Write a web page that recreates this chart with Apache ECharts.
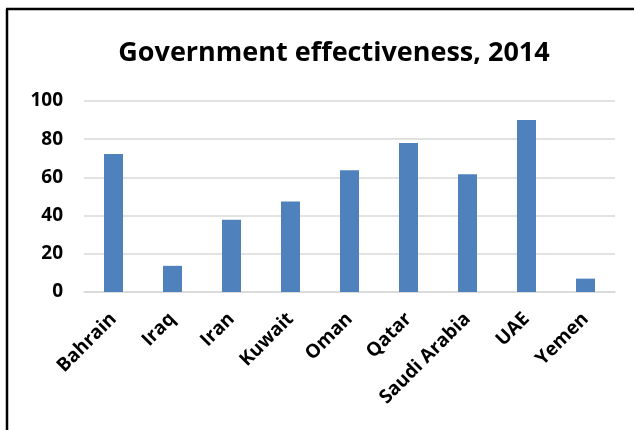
<!DOCTYPE html>
<html>
<head>
<meta charset="utf-8">
<script src="https://cdn.jsdelivr.net/npm/echarts@6/dist/echarts.min.js"></script>
<style>
  html, body { margin: 0; padding: 0; background: #fff; }
  #chart { width: 634px; height: 430px; }
</style>
</head>
<body>
<div id="chart"></div>
<script>
// Government effectiveness scores (percentile rank), 2014
const countries = ['Bahrain', 'Iraq', 'Iran', 'Kuwait', 'Oman', 'Qatar', 'Saudi Arabia', 'UAE', 'Yemen'];
const effectiveness = [72.3, 13.7, 37.8, 47.4, 63.8, 78.0, 61.7, 90.1, 7.0];
const yTicks = [0, 20, 40, 60, 80, 100];

const FONT = '"Open Sans", sans-serif';

const chart = echarts.init(document.getElementById('chart'), null, { renderer: 'canvas' });
chart.setOption({
  animation: false,
  backgroundColor: '#ffffff',
  title: {
    text: 'Government effectiveness, 2014',
    left: 329,
    textAlign: 'center',
    top: 35,
    textStyle: { fontFamily: FONT, fontWeight: 'bold', fontSize: 27, color: '#000' }
  },
  grid: { left: 84, right: 19, top: 101, bottom: 138 },
  xAxis: {
    type: 'category',
    data: countries,
    axisLine: { show: true, lineStyle: { color: '#d9d9d9', width: 1.5 } },
    axisTick: { show: false },
    axisLabel: {
      rotate: 45,
      interval: 0,
      margin: 24,
      fontFamily: FONT,
      fontWeight: 'bold',
      fontSize: 19,
      color: '#000'
    }
  },
  yAxis: {
    type: 'value',
    min: yTicks[0],
    max: yTicks[yTicks.length - 1],
    interval: yTicks[1] - yTicks[0],
    axisLine: { show: false },
    axisTick: { show: false },
    splitLine: { show: true, lineStyle: { color: '#d9d9d9', width: 1.5 } },
    axisLabel: {
      margin: 21,
      fontFamily: FONT,
      fontWeight: 'bold',
      fontSize: 19,
      color: '#000'
    }
  },
  series: [{
    type: 'bar',
    data: effectiveness,
    barWidth: 19,
    itemStyle: { color: '#4f81bd' }
  }],
  graphic: [
    { type: 'line', shape: { x1: 7, y1: 9, x2: 7, y2: 430 }, style: { stroke: '#000', lineWidth: 2.5 } },
    { type: 'line', shape: { x1: 6, y1: 9, x2: 634, y2: 9 }, style: { stroke: '#000', lineWidth: 2.5 } }
  ]
});
</script>
</body>
</html>
